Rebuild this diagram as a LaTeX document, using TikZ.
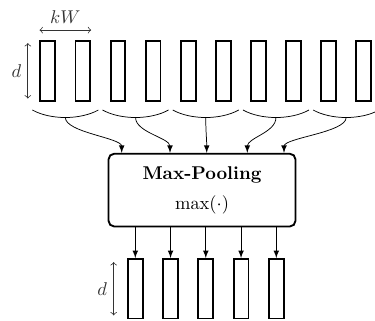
\documentclass[tikz,border=0pt]{standalone}
\usetikzlibrary{calc}
\begin{document}
\begin{tikzpicture}[x=0.019cm,y=-0.019cm]
  \tikzset{
    feat/.style={draw,line width=1pt,minimum width=8pt,minimum height=32.2pt,inner sep=0pt},
    dim/.style={black!80,<->},
    flow/.style={-latex},
  }
  \def\dx{35.1};
  \def\tx{47.8};
  \def\ty{70.8};
  \def\ddx{35.25};
  \def\bx{135.3};
  \def\by{288.7};
  \useasboundingbox (0,0) rectangle (375,320);
  % input columns
  \node[feat] (c1) at (\tx,\ty) {};
  \node[feat] (c2) at (\tx+\dx,\ty) {};
  \node[feat] (c3) at (\tx+2*\dx,\ty) {};
  \node[feat] (c4) at (\tx+3*\dx,\ty) {};
  \node[feat] (c5) at (\tx+4*\dx,\ty) {};
  \node[feat] (c6) at (\tx+5*\dx,\ty) {};
  \node[feat] (c7) at (\tx+6*\dx,\ty) {};
  \node[feat] (c8) at (\tx+7*\dx,\ty) {};
  \node[feat] (c9) at (\tx+8*\dx,\ty) {};
  \node[feat] (c10) at (\tx+9*\dx,\ty) {};
  \draw[dim] ([yshift=5.4pt]c1.north west) -- node[above]{$kW$} ([yshift=5.4pt]c2.north east);
  \draw[dim] ([xshift=-6.3pt,yshift=-1.6pt]c1.north west) -- node[left]{$d$} ([xshift=-6.3pt,yshift=1.6pt]c1.south west);
  % windows
  \coordinate (p1) at ($(c1)!0.5!(c2)+(0,46.7)$);
  \coordinate (p2) at ($(c3)!0.5!(c4)+(0,46.7)$);
  \coordinate (p3) at ($(c5)!0.5!(c6)+(0,46.7)$);
  \coordinate (p4) at ($(c7)!0.5!(c8)+(0,46.7)$);
  \coordinate (p5) at ($(c9)!0.5!(c10)+(0,46.7)$);
  \draw ($(p1)+(-33,-7.5)$) .. controls +(18,10) and +(-18,10) .. ($(p1)+(33,-7.5)$);
  \draw ($(p2)+(-33,-7.5)$) .. controls +(18,10) and +(-18,10) .. ($(p2)+(33,-7.5)$);
  \draw ($(p3)+(-33,-7.5)$) .. controls +(18,10) and +(-18,10) .. ($(p3)+(33,-7.5)$);
  \draw ($(p4)+(-33,-7.5)$) .. controls +(18,10) and +(-18,10) .. ($(p4)+(33,-7.5)$);
  \draw ($(p5)+(-33,-7.5)$) .. controls +(18,10) and +(-18,10) .. ($(p5)+(33,-7.5)$);
  % pooling
  \node[draw,line width=1pt,rounded corners=3pt,minimum width=101pt,minimum height=39.3pt,align=center] (pool) at (202,190.1) {\textbf{Max-Pooling}\\[4pt]$\max(\cdot)$};
  \coordinate (in1) at ($(pool.north)+(-80.3,0)$);
  \coordinate (in2) at ($(pool.north)+(-32,0)$);
  \coordinate (in3) at ($(pool.north)+(4.7,0)$);
  \coordinate (in4) at ($(pool.north)+(45.3,0)$);
  \coordinate (in5) at ($(pool.north)+(82,0)$);
  \draw[flow] (p1) .. controls +(0,15) and +(0,-15) .. (in1);
  \draw[flow] (p2) .. controls +(0,15) and +(0,-15) .. (in2);
  \draw[flow] (p3) .. controls +(0,15) and +(0,-15) .. (in3);
  \draw[flow] (p4) .. controls +(0,15) and +(0,-15) .. (in4);
  \draw[flow] (p5) .. controls +(0,15) and +(0,-15) .. (in5);
  % output columns
  \node[feat] (o1) at (\bx,\by) {};
  \node[feat] (o2) at (\bx+\ddx,\by) {};
  \node[feat] (o3) at (\bx+2*\ddx,\by) {};
  \node[feat] (o4) at (\bx+3*\ddx,\by) {};
  \node[feat] (o5) at (\bx+4*\ddx,\by) {};
  \draw[flow] (pool.south -| o1) -- (o1.north);
  \draw[flow] (pool.south -| o2) -- (o2.north);
  \draw[flow] (pool.south -| o3) -- (o3.north);
  \draw[flow] (pool.south -| o4) -- (o4.north);
  \draw[flow] (pool.south -| o5) -- (o5.north);
  \draw[dim] ([xshift=-7.2pt,yshift=-2.2pt]o1.north west) -- node[left]{$d$} ([xshift=-7.2pt,yshift=2.2pt]o1.south west);
\end{tikzpicture}
\end{document}
